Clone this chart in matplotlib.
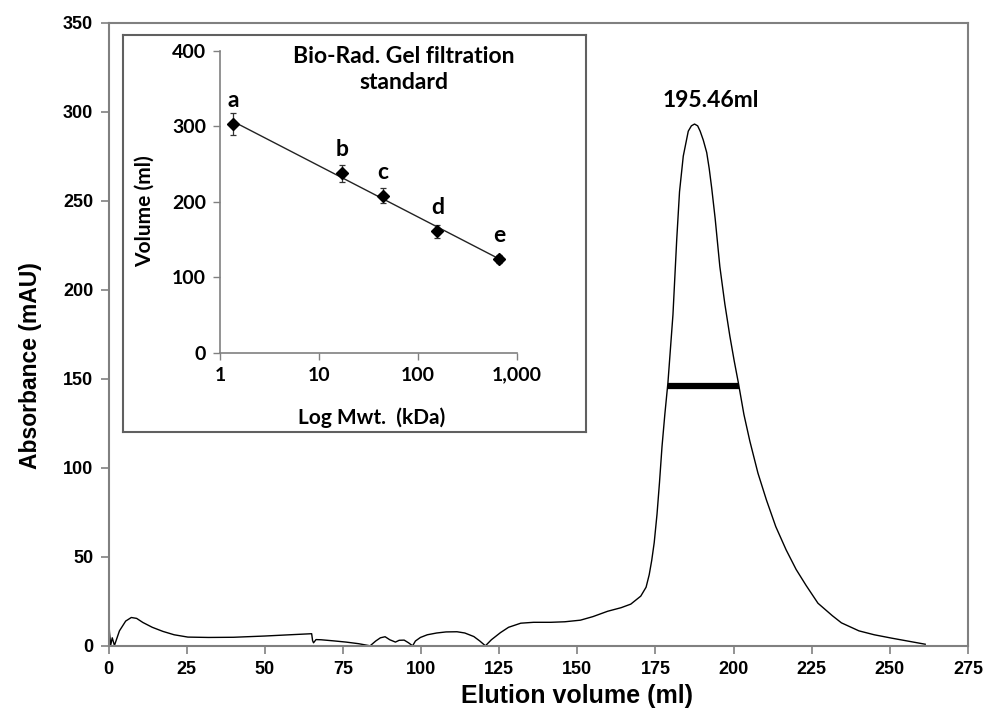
import numpy as np
import matplotlib
matplotlib.use("Agg")
import matplotlib.pyplot as plt
from matplotlib.ticker import FixedLocator, NullLocator

# ---------------- data ----------------
elution_ml = [0, 0.3, 0.7, 1.2, 1.9, 3.5, 5.5, 7.3, 9, 11, 14, 17.4, 21, 25.4, 32, 40, 50, 58,
              65.0, 65.3, 65.6, 66.4, 68, 71.9, 76, 80, 83.7, 85.5, 87, 88.5, 90, 91.8, 93, 94.6,
              96, 97.3, 98.2, 99.8, 102, 105, 108, 111.5, 114, 116.9, 118.8, 120.6, 122.5, 125.4,
              128, 131.9, 136, 141.5, 146, 151, 155, 159.7, 164, 167.1, 170.3, 172, 173.0, 173.8,
              174.6, 175.5, 176.3, 177.1, 178.0, 179.0, 180.6, 181.8, 182.7, 183.9, 185.5, 186.5,
              187.5, 188.5, 189.3, 190.3, 191.4, 192.2, 193.0, 194.1, 195.6, 197.2, 198.8, 200.2,
              201.5, 203.3, 205.2, 207.8, 210.5, 213.5, 216.8, 220.0, 223.2, 227, 231.6, 234.5,
              240.1, 245, 250.6, 255, 261.3]
absorbance = [18.5, 8, 0.5, 4.6, 0.3, 8.5, 14, 16, 15.5, 13.2, 10.5, 8.2, 6.3, 5.0, 4.8, 4.9, 5.6, 6.3,
              6.9, 3, 1.8, 3.6, 3.5, 2.9, 2.2, 1.3, 0.1, 2.8, 4.6, 5.2, 3.5, 2.2, 3.2, 3.3,
              1.8, 0.1, 2.8, 4.8, 6.3, 7.3, 7.9, 8.0, 7.3, 5.3, 2.8, 0.1, 3.5, 7.5,
              10.5, 12.8, 13.3, 13.3, 13.6, 14.5, 16.5, 19.5, 21.5, 23.5, 28, 33, 40, 48,
              58, 74, 92, 112, 130, 148, 186, 228, 255, 275, 289, 292,
              293, 292, 289, 284, 277, 268, 257, 240, 213, 192, 174, 160,
              148, 130, 115, 97, 82, 67, 54, 43, 34, 24, 17, 13,
              8.5, 6.3, 4.4, 3, 1.0]

fwhm_start = 179.0
fwhm_end = 201.8
fwhm_level = 146
peak_label = "195.46ml"
peak_label_pos = (192.6, 306)

std_labels = ["a", "b", "c", "d", "e"]
std_mwt_kda = [1.35, 17, 44, 158, 670]
std_volume = [303, 238, 208, 161, 124]
std_err = [15, 11.5, 10, 8.5, 5]

x_ticks = [0, 25, 50, 75, 100, 125, 150, 175, 200, 225, 250, 275]
y_ticks = [0, 50, 100, 150, 200, 250, 300, 350]
inset_x_ticks = [1, 10, 100, 1000]
inset_x_ticklabels = ["1", "10", "100", "1,000"]
inset_y_ticks = [0, 100, 200, 300, 400]

# ---------------- figure ----------------
W, H = 987, 725
fig = plt.figure(figsize=(W / 100, H / 100), dpi=100)
fig.patch.set_facecolor("white")

def fr(x0, y0, x1, y1):
    """pixel box (top-left origin) -> figure fraction rect"""
    return [x0 / W, 1 - y1 / H, (x1 - x0) / W, (y1 - y0) / H]

spine_col = "#808080"
main_font = "Liberation Sans"
inset_font = "Lato"

ax = fig.add_axes(fr(108.5, 22.5, 968, 646))
ax.plot(elution_ml, absorbance, color="black", lw=1.0, solid_joinstyle="round")
ax.hlines(fwhm_level, fwhm_start, fwhm_end, color="black", lw=4.5)
ax.text(*peak_label_pos, peak_label, ha="center", va="center",
        fontsize=16.5, fontfamily=inset_font, fontweight="bold")
ax.set_xlim(0, 275)
ax.set_ylim(0, 350)
ax.xaxis.set_major_locator(FixedLocator(x_ticks))
ax.yaxis.set_major_locator(FixedLocator(y_ticks))
for s in ax.spines.values():
    s.set_color(spine_col)
    s.set_linewidth(1.5)
ax.tick_params(direction="out", length=6, width=1.2, color=spine_col, labelsize=13, pad=5)
for lab in ax.get_xticklabels() + ax.get_yticklabels():
    lab.set_fontfamily(main_font)
    lab.set_fontweight("bold")
ax.set_xlabel("Elution volume (ml)", fontsize=18, fontfamily=main_font, fontweight="bold")
ax.xaxis.label.set_va("center")
ax.xaxis.set_label_coords(0.545, -0.08)
ax.set_ylabel("Absorbance (mAU)", fontsize=16.5, fontfamily=main_font, fontweight="bold")
ax.yaxis.label.set_va("center")
ax.yaxis.set_label_coords(-0.091, 0.45)

# inset frame
frame = fig.add_axes(fr(123, 35, 586, 432))
frame.set_xticks([])
frame.set_yticks([])
frame.set_facecolor("white")
for s in frame.spines.values():
    s.set_color("#606060")
    s.set_linewidth(1.5)

# inset axes
ins = fig.add_axes(fr(220, 51, 516.7, 352.7))
ins.patch.set_alpha(0)
ins.set_xscale("log")
ins.set_xlim(1, 1000)
ins.set_ylim(0, 400)
ins.xaxis.set_major_locator(FixedLocator(inset_x_ticks))
ins.xaxis.set_minor_locator(NullLocator())
ins.set_xticklabels(inset_x_ticklabels)
ins.yaxis.set_major_locator(FixedLocator(inset_y_ticks))
for side in ("top", "right"):
    ins.spines[side].set_visible(False)
for side in ("left", "bottom"):
    ins.spines[side].set_color(spine_col)
    ins.spines[side].set_linewidth(1.2)
ins.tick_params(direction="out", length=5, width=1.0, color=spine_col, labelsize=14, pad=5)
for lab in ins.get_xticklabels() + ins.get_yticklabels():
    lab.set_fontfamily(inset_font)
    lab.set_fontweight("bold")

coef = np.polyfit(np.log10(std_mwt_kda), std_volume, 1)
fit_x = np.array([std_mwt_kda[0], std_mwt_kda[-1]])
ins.plot(fit_x, np.polyval(coef, np.log10(fit_x)), color="#222222", lw=1.0)
ins.errorbar(std_mwt_kda, std_volume, yerr=std_err, fmt="D", color="black", ms=6,
             ecolor="#333333", elinewidth=0.9, capsize=2.5, capthick=0.9)
for lbl, mx, vy in zip(std_labels, std_mwt_kda, std_volume):
    ins.annotate(lbl, (mx, vy), xytext=(0, 17), textcoords="offset points",
                 ha="center", va="center", fontsize=16.5, fontfamily=inset_font,
                 fontweight="bold")
ins.text(0.62, 0.94, "Bio-Rad. Gel filtration\nstandard", transform=ins.transAxes,
         ha="center", va="center", fontsize=16.5, fontfamily=inset_font, fontweight="bold",
         linespacing=1.3)
ins.set_xlabel("Log Mwt.  (kDa)", fontsize=15, fontfamily=inset_font, fontweight="bold")
ins.xaxis.label.set_va("center")
ins.xaxis.set_label_coords(0.512, -0.216)
ins.set_ylabel("Volume (ml)", fontsize=15, fontfamily=inset_font, fontweight="bold")
ins.yaxis.label.set_va("center")
ins.yaxis.set_label_coords(-0.253, 0.47)

fig.savefig("out.png", dpi=100, facecolor="white")
